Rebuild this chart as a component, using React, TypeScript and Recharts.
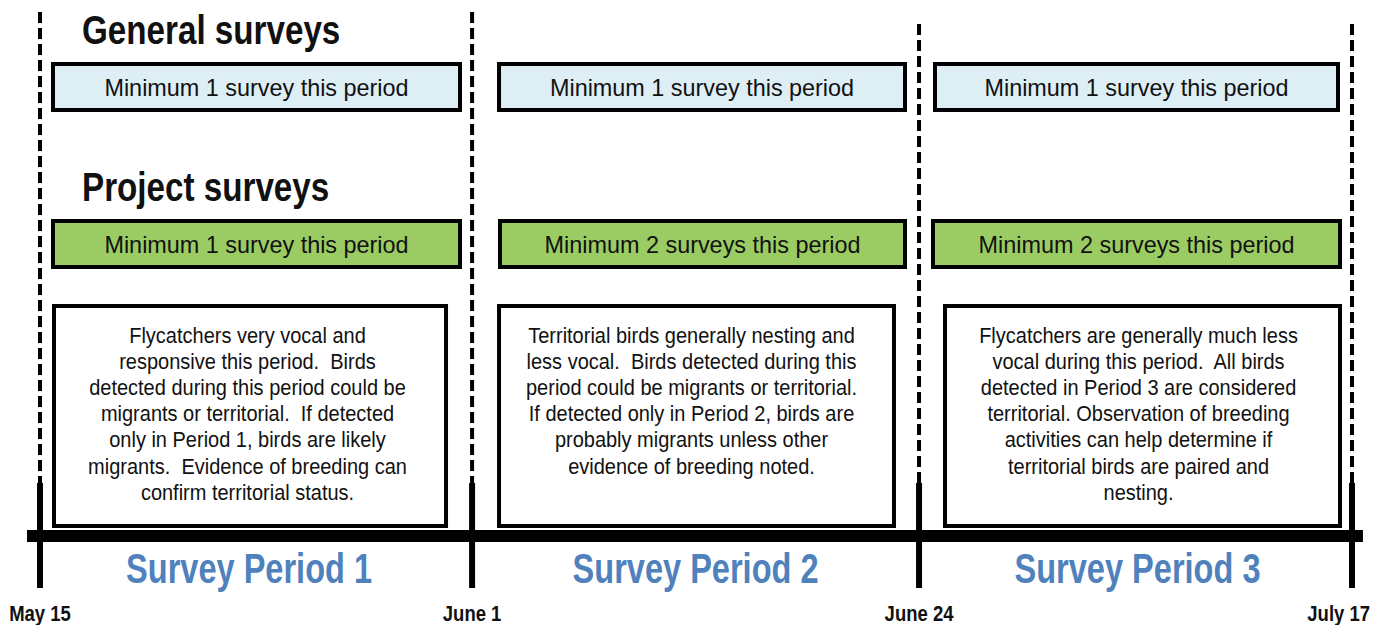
import React from 'react';
import { ComposedChart, XAxis, YAxis, ReferenceArea, ReferenceLine, Scatter } from 'recharts';

// ---------- data ----------
const boundaryDates = ['May 15', 'June 1', 'June 24', 'July 17'];
const periodNames = ['Survey Period 1', 'Survey Period 2', 'Survey Period 3'];
const sectionTitles = ['General surveys', 'Project surveys'];
const generalRequirement = [
  'Minimum 1 survey this period',
  'Minimum 1 survey this period',
  'Minimum 1 survey this period',
];
const projectRequirement = [
  'Minimum 1 survey this period',
  'Minimum 2 surveys this period',
  'Minimum 2 surveys this period',
];
const periodNotes = [
  [
    'Flycatchers very vocal and',
    'responsive this period.  Birds',
    'detected during this period could be',
    'migrants or territorial.  If detected',
    'only in Period 1, birds are likely',
    'migrants.  Evidence of breeding can',
    'confirm territorial status.',
  ],
  [
    'Territorial birds generally nesting and',
    'less vocal.  Birds detected during this',
    'period could be migrants or territorial.',
    'If detected only in Period 2, birds are',
    'probably migrants unless other',
    'evidence of breeding noted.',
  ],
  [
    'Flycatchers are generally much less',
    'vocal during this period.  All birds',
    'detected in Period 3 are considered',
    'territorial. Observation of breeding',
    'activities can help determine if',
    'territorial birds are paired and',
    'nesting.',
  ],
];

// ---------- layout (positions / sizes / styles) ----------
const BOUNDARY_X = [0, 0.988, 2.01, 3];
const GENERAL_X = [[0.0297, 0.9604], [1.0496, 1.9779], [2.0465, 2.968]];
const PROJECT_X = [[0.0297, 0.9604], [1.0518, 1.9779], [2.0419, 2.9726]];
const NOTES_X = [[0.032, 0.9284], [1.0496, 1.9527], [2.0694, 2.9726]];
const NOTES_DX = [-2.5, -5, -4];
const PERIOD_LABEL_DX = [-7, 0, 2];
const GENERAL_Y = [64, 110];
const PROJECT_Y = [221, 267];
const NOTES_Y = [306, 526];
const PERIOD_LABEL_Y = [548, 588];
const DASH_TOP = [12, 12, 24, 24];
const DASH_BOTTOM = 483;
const POST_BOTTOM = 588;
const TIMELINE_Y = 536;
const TIMELINE_X = [-0.0297, 3.025];
const Y_MAX = 588;

const FONT = "'Liberation Sans', Arial, Helvetica, sans-serif";
const BLUE_FILL = '#DDEEF5';
const GREEN_FILL = '#9BCC63';
const TITLE_BLUE = '#4F81BD';
const INK = '#111111';

type STextProps = {
  x: number;
  y: number;
  sx: number;
  size: number;
  weight?: string | number;
  fill?: string;
  anchor?: 'start' | 'middle' | 'end';
  children: React.ReactNode;
};

function SText({ x, y, sx, size, weight = 'normal', fill = INK, anchor = 'middle', children }: STextProps) {
  return (
    <text
      transform={`translate(${x},${y}) scale(${sx},1)`}
      x={0}
      y={0}
      fontFamily={FONT}
      fontSize={size}
      fontWeight={weight}
      fill={fill}
      textAnchor={anchor}
      style={{ whiteSpace: 'pre' }}
    >
      {children}
    </text>
  );
}

const requirementLabel = (text: string, title?: string) => (props: any) => {
  const vb = props.viewBox || {};
  const cx = vb.x + vb.width / 2;
  const cy = vb.y + vb.height / 2;
  return (
    <g>
      {title ? (
        <SText x={vb.x + 29} y={vb.y - 20} sx={0.83} size={40} weight="bold" anchor="start">
          {title}
        </SText>
      ) : null}
      <SText x={cx} y={cy + 8.5} sx={0.975} size={24}>
        {text}
      </SText>
    </g>
  );
};

const notesLabel = (lines: string[], dx: number) => (props: any) => {
  const vb = props.viewBox || {};
  const cx = vb.x + vb.width / 2 + dx;
  return (
    <g>
      {lines.map((line, i) => (
        <SText key={i} x={cx} y={vb.y + 37 + i * 26.1} sx={0.93} size={21.5}>
          {line}
        </SText>
      ))}
    </g>
  );
};

const periodLabel = (name: string, dx: number) => (props: any) => {
  const vb = props.viewBox || {};
  const cx = vb.x + vb.width / 2 + dx;
  return (
    <SText x={cx} y={vb.y + vb.height - 5} sx={0.775} size={42} weight="bold" fill={TITLE_BLUE}>
      {name}
    </SText>
  );
};

function DateTick(props: any) {
  const { x, y, index } = props;
  const last = index === boundaryDates.length - 1;
  return (
    <SText
      x={last ? x + 18 : x}
      y={y + 25}
      sx={0.86}
      size={21.5}
      weight="bold"
      anchor={last ? 'end' : 'middle'}
    >
      {boundaryDates[index]}
    </SText>
  );
}

const points = boundaryDates.map((d, i) => ({ x: BOUNDARY_X[i], y: TIMELINE_Y, date: d }));

export default function App() {
  return (
    <div style={{ position: 'absolute', left: 0, top: 0, background: '#fff' }}>
      <ComposedChart
        width={1399}
        height={625}
        data={points}
        margin={{ top: 0, right: 47, bottom: 0, left: 40 }}
      >
        <XAxis
          dataKey="x"
          type="number"
          domain={[0, 3]}
          ticks={BOUNDARY_X}
          interval={0}
          height={37}
          axisLine={false}
          tickLine={false}
          tick={<DateTick />}
        />
        <YAxis type="number" domain={[0, Y_MAX]} reversed hide />

        {/* dashed period separators */}
        {BOUNDARY_X.map((bx, i) => (
          <ReferenceLine
            key={`dash-${i}`}
            segment={[{ x: bx, y: DASH_TOP[i] }, { x: bx, y: DASH_BOTTOM }]}
            stroke="#000"
            strokeWidth={4}
            strokeDasharray="11 5"
            ifOverflow="visible"
          />
        ))}
        {/* solid posts */}
        {BOUNDARY_X.map((bx, i) => (
          <ReferenceLine
            key={`post-${i}`}
            segment={[{ x: bx, y: DASH_BOTTOM }, { x: bx, y: POST_BOTTOM }]}
            stroke="#000"
            strokeWidth={6}
            ifOverflow="visible"
          />
        ))}
        {/* timeline bar */}
        <ReferenceLine
          segment={[{ x: TIMELINE_X[0], y: TIMELINE_Y }, { x: TIMELINE_X[1], y: TIMELINE_Y }]}
          stroke="#000"
          strokeWidth={12}
          ifOverflow="visible"
        />

        {/* general survey boxes */}
        {generalRequirement.map((t, i) => (
          <ReferenceArea
            key={`gen-${i}`}
            x1={GENERAL_X[i][0]}
            x2={GENERAL_X[i][1]}
            y1={GENERAL_Y[0]}
            y2={GENERAL_Y[1]}
            fill={BLUE_FILL}
            fillOpacity={1}
            stroke="#000"
            strokeWidth={4}
            ifOverflow="visible"
            label={requirementLabel(t, i === 0 ? sectionTitles[0] : undefined)}
          />
        ))}
        {/* project survey boxes */}
        {projectRequirement.map((t, i) => (
          <ReferenceArea
            key={`proj-${i}`}
            x1={PROJECT_X[i][0]}
            x2={PROJECT_X[i][1]}
            y1={PROJECT_Y[0]}
            y2={PROJECT_Y[1]}
            fill={GREEN_FILL}
            fillOpacity={1}
            stroke="#000"
            strokeWidth={4}
            ifOverflow="visible"
            label={requirementLabel(t, i === 0 ? sectionTitles[1] : undefined)}
          />
        ))}
        {/* notes boxes */}
        {periodNotes.map((lines, i) => (
          <ReferenceArea
            key={`notes-${i}`}
            x1={NOTES_X[i][0]}
            x2={NOTES_X[i][1]}
            y1={NOTES_Y[0]}
            y2={NOTES_Y[1]}
            fill="#fff"
            fillOpacity={1}
            stroke="#000"
            strokeWidth={4}
            ifOverflow="visible"
            label={notesLabel(lines, NOTES_DX[i])}
          />
        ))}
        {/* period names */}
        {periodNames.map((n, i) => (
          <ReferenceArea
            key={`pname-${i}`}
            x1={BOUNDARY_X[i]}
            x2={BOUNDARY_X[i + 1]}
            y1={PERIOD_LABEL_Y[0]}
            y2={PERIOD_LABEL_Y[1]}
            fill="none"
            stroke="none"
            ifOverflow="visible"
            label={periodLabel(n, PERIOD_LABEL_DX[i])}
          />
        ))}

        <Scatter dataKey="y" isAnimationActive={false} shape={() => <g />} />
      </ComposedChart>
    </div>
  );
}
